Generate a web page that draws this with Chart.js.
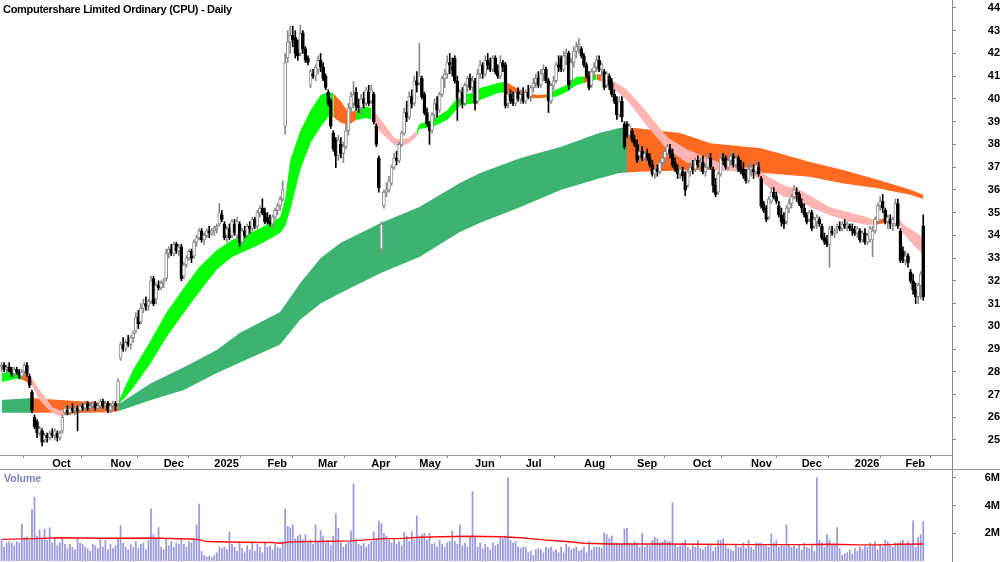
<!DOCTYPE html>
<html>
<head>
<meta charset="utf-8">
<script src="https://cdn.jsdelivr.net/npm/chart.js@4.4.1/dist/chart.umd.min.js"></script>
<style>
  html, body { margin:0; padding:0; background:#fff; }
  #wrap { position:relative; width:1000px; height:562px; overflow:hidden; background:#fff; }
  #priceCanvas { position:absolute; left:0; top:0; }
  #volBox { position:absolute; left:0; top:469px; width:1000px; height:93px; border-top:1px solid #9a9a9a; box-sizing:border-box; }
  #volCanvas { position:absolute; left:0; top:0; }
  #title { position:absolute; left:3px; top:3px; font:bold 11px "Liberation Sans", Arial, sans-serif; letter-spacing:-0.3px; color:#000; white-space:nowrap; }
  #volLabel { position:absolute; left:4px; top:472px; font:bold 10.5px "Liberation Sans", Arial, sans-serif; color:#7f7fc0; }
</style>
</head>
<body>
<div id="wrap">
  <canvas id="priceCanvas" width="1000" height="469"></canvas>
  <div id="volBox"><canvas id="volCanvas" width="1000" height="92"></canvas></div>
  <div id="title">Computershare Limited Ordinary (CPU) - Daily</div>
  <div id="volLabel">Volume</div>
</div>
<script>
// ---------- DATA ----------
const monthTickIdx = [20,43,64,84,105,125,146,165,187,207,230,251,273,296,316,337,357];
const monthTickLabels = ['Oct','Nov','Dec','2025','Feb','Mar','Apr','May','Jun','Jul','Aug','Sep','Oct','Nov','Dec','2026','Feb'];
const priceTicks = [25,26,27,28,29,30,31,32,33,34,35,36,37,38,39,40,41,42,43,44];
const volTicks = [2,4,6];

const opens = [
28.2,28.3,28.1,28.2,28.0,27.9,28.1,28.0,27.8,28.0,
28.3,27.8,27.1,26.0,25.8,25.3,25.4,25.0,25.2,25.1,
25.3,25.2,25.3,25.1,25.4,26.2,26.3,26.2,26.4,26.3,
26.4,26.3,26.5,26.4,26.6,26.4,26.5,26.6,26.4,26.5,
26.7,26.5,26.6,26.3,26.5,26.6,26.6,28.6,29.2,29.0,
29.3,29.2,29.5,29.8,30.4,30.2,30.8,31.0,30.9,31.1,
32.1,31.2,31.8,31.7,31.9,32.1,33.2,33.4,33.2,33.6,
33.3,33.5,32.2,32.7,33.0,33.3,33.1,33.7,33.9,34.2,
33.8,34.0,34.2,34.1,34.2,34.3,34.5,34.9,34.5,34.0,
34.3,34.0,34.5,34.0,34.5,33.7,34.2,34.0,34.4,34.3,
34.7,34.4,35.0,35.2,35.0,34.8,34.6,34.5,34.8,35.1,
35.3,35.6,38.8,41.8,42.5,42.8,42.7,42.2,42.0,42.9,
42.2,41.8,40.6,41.1,41.0,41.3,41.7,41.4,41.0,40.3,
39.9,38.5,38.2,37.5,38.0,37.6,37.9,38.6,39.6,39.8,
40.3,39.7,39.6,40.0,39.8,40.3,39.9,40.2,38.8,37.4,
33.4,35.3,35.9,36.0,36.3,37.0,37.4,37.3,38.0,38.5,
39.4,39.2,40.1,39.8,40.8,40.7,40.9,40.2,39.4,38.9,
38.6,39.3,39.8,39.5,40.2,40.9,41.1,41.6,41.4,41.8,
40.8,40.0,40.3,39.8,40.6,40.9,40.5,40.8,39.9,41.1,
41.5,41.1,41.7,41.6,41.3,41.8,41.2,41.0,41.6,41.5,
39.8,40.2,40.0,39.8,40.3,40.0,40.2,39.9,40.3,40.1,
40.5,40.7,40.9,40.6,41.1,41.3,40.8,39.9,40.6,40.8,
41.5,41.8,41.3,41.9,42.0,40.8,41.6,42.1,42.3,42.2,
41.9,41.5,41.0,40.6,41.2,41.4,41.7,41.3,41.2,40.6,
41.0,40.7,40.2,39.9,39.3,39.9,38.9,38.9,38.4,38.6,
38.2,38.0,37.5,37.7,37.4,37.6,37.4,37.1,36.7,36.9,
36.8,37.2,37.4,37.6,37.8,37.6,37.2,36.9,36.7,36.8,
36.7,36.2,36.8,37.0,36.9,37.3,37.1,37.2,36.8,37.0,
37.4,36.9,36.2,35.9,36.7,37.4,37.4,37.0,37.3,37.5,
37.1,37.4,37.0,36.9,36.7,36.4,36.9,36.9,36.8,37.0,
36.5,35.4,35.2,34.8,35.5,35.9,35.7,35.3,34.9,34.7,
34.6,35.2,35.4,35.7,35.9,35.8,35.4,35.2,34.9,34.7,
35.0,34.4,34.6,34.7,34.4,33.9,33.8,33.6,34.2,34.1,
34.3,34.4,34.3,34.5,34.4,34.4,34.3,34.2,34.1,34.2,
33.8,34.1,33.7,33.8,33.8,34.2,34.6,35.3,35.5,35.1,
34.6,34.7,34.5,34.5,35.4,34.2,33.3,32.9,33.1,32.4,
32.0,31.6,31.3,31.8,34.4];
const highs = [
28.4,28.4,28.3,28.4,28.2,28.2,28.2,28.1,28.1,28.4,
28.4,27.9,27.2,26.1,25.9,25.6,25.5,25.3,25.3,25.4,
25.5,25.5,25.4,25.4,26.1,26.5,26.5,26.5,26.6,26.5,
26.5,26.6,26.6,26.7,26.7,26.6,26.7,26.7,26.6,26.8,
26.8,26.7,26.7,26.6,26.7,26.7,27.7,29.3,29.5,29.4,
29.6,29.6,29.8,30.6,30.7,31.0,31.2,31.3,31.2,32.2,
32.2,31.9,32.0,32.0,32.1,33.4,33.5,33.6,33.7,33.7,
33.6,33.6,32.8,33.1,33.4,33.4,33.8,34.0,34.3,34.3,
34.1,34.3,34.4,34.3,34.4,34.5,35.4,35.1,34.6,34.4,
34.5,34.7,34.7,34.8,34.6,34.3,34.4,34.5,34.6,34.8,
34.8,35.1,35.3,35.6,35.2,35.0,34.9,34.9,35.2,35.4,
35.7,36.4,42.0,43.0,43.2,43.2,43.0,42.6,43.25,43.0,
42.3,41.9,41.3,41.3,41.5,41.9,42.0,41.6,41.1,40.4,
40.0,38.6,38.3,38.4,38.3,38.1,38.9,39.8,40.3,40.76,
40.5,40.0,40.2,40.3,40.5,40.6,40.6,40.3,38.9,37.5,
34.6,36.0,36.3,36.6,37.1,37.6,37.7,38.1,38.6,39.6,
39.9,40.3,40.4,41.0,41.2,42.45,41.0,40.3,39.6,39.0,
39.4,40.0,40.1,40.3,41.0,41.3,41.9,42.0,41.8,41.9,
41.0,40.4,40.5,40.7,41.0,41.1,41.0,40.9,41.3,41.7,
41.6,41.9,42.0,41.8,41.9,41.9,41.5,41.9,41.7,41.6,
40.3,40.4,40.3,40.4,40.5,40.4,40.5,40.4,40.6,40.6,
40.9,41.1,41.2,41.3,41.5,41.4,40.9,40.7,41.0,41.6,
41.9,41.9,42.1,42.2,42.1,41.8,42.3,42.5,42.65,42.3,
42.0,41.6,41.2,41.3,41.6,41.9,41.9,41.6,41.3,41.2,
41.1,40.9,40.4,40.1,40.1,40.1,39.0,39.0,38.9,38.7,
38.4,38.2,37.9,37.9,37.7,37.8,37.6,37.3,37.0,37.1,
37.3,37.6,37.8,38.0,38.0,37.8,37.4,37.1,37.0,37.0,
36.8,36.9,37.2,37.3,37.4,37.5,37.4,37.5,37.1,37.6,
37.6,37.0,36.5,36.8,37.6,37.6,37.5,37.5,37.7,37.6,
37.6,37.5,37.3,37.2,36.9,37.1,37.2,37.1,37.3,37.2,
36.6,35.5,35.3,35.7,36.1,36.1,35.9,35.5,35.2,35.0,
35.3,35.6,35.8,36.2,36.1,35.9,35.6,35.4,35.0,35.1,
35.1,34.8,34.9,34.8,34.5,34.1,34.0,34.4,34.4,34.3,
34.5,34.6,34.6,34.7,34.6,34.5,34.5,34.4,34.4,34.3,
34.2,34.3,34.1,34.4,34.4,34.8,35.4,35.7,35.8,35.2,
34.9,34.9,34.8,35.6,35.6,34.3,33.5,33.3,33.2,32.5,
32.3,31.9,31.9,32.4,34.9];
const lows = [
28.0,28.0,27.9,28.0,27.8,27.8,27.9,27.7,27.7,27.9,
27.8,27.3,26.2,25.5,25.1,25.2,24.74,24.9,24.9,25.0,
25.1,25.0,24.95,25.0,25.3,26.1,26.1,26.1,26.2,26.1,
25.4,26.2,26.3,26.3,26.3,26.2,26.4,26.3,26.3,26.4,
26.4,26.3,26.2,26.2,26.3,26.3,26.5,28.5,28.9,28.9,
29.1,29.0,29.3,29.7,29.9,30.1,30.6,30.7,30.7,31.0,
30.9,31.0,31.6,31.6,31.7,32.0,33.0,33.1,33.1,33.2,
33.1,32.0,32.1,32.6,32.9,32.8,33.0,33.5,33.8,33.7,
33.6,33.9,33.9,34.0,34.0,34.1,34.4,34.6,33.8,33.7,
33.8,33.9,34.0,33.9,33.5,33.6,33.9,33.9,34.1,34.2,
34.3,34.3,34.8,34.9,34.5,34.5,34.4,34.3,34.7,34.9,
35.1,35.5,38.45,41.6,42.0,42.3,41.8,41.7,41.9,42.0,
41.6,41.5,40.5,40.9,40.8,41.1,41.2,40.8,40.4,39.7,
38.7,37.7,36.98,37.3,37.4,37.2,37.8,38.4,39.4,39.6,
39.5,39.4,39.3,39.6,39.7,39.7,39.8,38.9,37.9,35.9,
33.16,35.2,35.7,35.9,36.2,36.9,37.1,37.2,37.9,38.4,
39.0,39.1,39.6,39.7,40.3,40.6,40.0,39.3,38.8,38.0,
38.5,39.1,39.2,39.4,40.1,40.5,40.9,41.1,41.0,40.7,
39.05,39.7,39.6,39.7,40.3,40.4,40.3,39.5,39.8,40.9,
40.9,41.0,41.3,41.2,41.2,41.1,40.9,40.9,41.2,39.6,
39.6,39.8,39.7,39.7,39.9,39.8,39.8,39.8,40.0,39.9,
40.3,40.5,40.5,40.5,40.8,40.7,39.4,39.8,40.4,40.7,
41.2,41.2,41.2,41.5,40.4,40.7,41.4,41.8,42.0,41.8,
41.4,40.9,40.4,40.5,41.0,41.2,41.2,41.0,40.4,40.5,
40.4,40.1,39.8,39.1,39.2,39.0,37.8,38.3,38.3,38.1,
37.9,37.2,37.2,37.3,37.2,37.3,37.0,36.6,36.5,36.6,
36.7,37.0,37.2,37.5,37.4,37.0,36.8,36.5,36.5,36.4,
35.75,36.1,36.6,36.7,36.8,37.0,36.8,36.7,36.6,36.9,
36.9,35.9,35.7,35.8,36.6,37.1,36.9,36.9,37.1,37.0,
37.0,36.8,36.7,36.5,36.3,36.3,36.6,36.5,36.7,36.6,
35.2,35.0,34.6,34.7,35.4,35.6,35.4,34.8,34.4,34.3,
34.5,35.0,35.2,35.6,35.5,35.3,35.0,34.8,34.5,34.6,
34.2,34.3,34.3,34.4,33.8,33.6,33.5,32.6,34.0,33.9,
34.1,34.2,34.2,34.3,34.2,34.2,34.0,34.0,33.9,33.7,
33.7,33.6,33.6,33.7,33.06,34.1,34.5,35.1,35.0,34.5,
34.3,34.3,34.2,34.4,34.3,32.8,32.8,32.7,32.6,31.9,
31.4,31.0,31.0,31.2,31.15];
const closes = [
28.3,28.1,28.2,28.0,27.9,28.1,28.0,27.8,28.0,28.3,
27.9,27.4,26.3,25.6,25.3,25.5,24.9,25.2,25.1,25.3,
25.2,25.4,25.1,25.3,26.0,26.4,26.2,26.4,26.3,26.4,
26.3,26.5,26.4,26.6,26.4,26.5,26.6,26.4,26.5,26.7,
26.5,26.6,26.3,26.5,26.6,26.5,27.6,29.2,29.0,29.3,
29.2,29.5,29.7,30.4,30.1,30.8,31.0,30.9,31.1,32.0,
31.0,31.8,31.7,31.9,32.0,33.2,33.4,33.2,33.6,33.3,
33.5,32.1,32.7,33.0,33.3,33.0,33.7,33.9,34.2,33.8,
34.0,34.2,34.1,34.2,34.3,34.4,35.0,34.7,33.9,34.3,
33.9,34.6,34.1,34.6,33.7,34.2,34.0,34.4,34.3,34.7,
34.4,35.0,35.2,35.0,34.6,34.6,34.5,34.8,35.1,35.3,
35.6,36.0,41.6,42.5,42.8,42.6,42.0,41.9,42.9,42.2,
41.7,41.6,41.2,41.0,41.4,41.7,41.4,40.9,40.5,39.8,
38.8,37.8,37.5,38.2,37.6,37.9,38.6,39.6,40.1,40.2,
39.7,39.6,40.0,39.8,40.4,39.8,40.4,39.0,38.0,36.1,
34.5,35.9,36.0,36.4,37.0,37.4,37.3,38.0,38.5,39.4,
39.2,40.1,39.8,40.8,40.6,41.0,40.1,39.4,38.9,38.6,
39.3,39.8,39.5,40.2,40.9,41.1,41.6,41.5,41.3,40.8,
40.0,40.3,39.8,40.6,40.9,40.5,40.8,39.8,41.1,41.5,
41.1,41.7,41.5,41.3,41.8,41.2,41.0,41.6,41.4,39.7,
40.2,39.9,39.8,40.3,40.0,40.2,39.9,40.3,40.1,40.5,
40.7,40.9,40.6,41.1,41.3,40.8,39.9,40.6,40.8,41.5,
41.4,41.3,41.9,42.0,40.6,41.6,42.1,42.3,42.4,41.9,
41.5,41.0,40.5,41.2,41.4,41.7,41.3,41.5,40.5,41.1,
40.6,40.2,39.9,39.3,39.9,39.2,37.9,38.4,38.8,38.2,
38.0,37.3,37.7,37.4,37.6,37.4,37.1,36.7,36.9,36.8,
37.2,37.4,37.7,37.9,37.6,37.1,36.9,36.7,36.9,36.6,
36.0,36.8,37.0,36.9,37.3,37.1,37.2,36.8,37.0,37.4,
37.0,36.2,35.8,36.7,37.4,37.3,37.0,37.3,37.5,37.1,
37.4,36.9,36.8,36.6,36.4,36.9,37.0,36.8,37.1,36.7,
35.3,35.1,34.7,35.6,35.9,35.7,35.5,34.9,34.6,34.5,
35.2,35.4,35.7,36.0,35.8,35.4,35.2,34.9,34.6,35.0,
34.3,34.7,34.8,34.5,33.9,33.7,33.6,34.3,34.1,34.2,
34.4,34.3,34.5,34.4,34.5,34.3,34.2,34.1,34.3,33.8,
34.1,33.7,34.0,34.3,34.2,34.7,35.3,35.5,35.2,34.6,
34.8,34.5,34.7,35.4,34.4,32.9,32.9,33.1,32.8,32.0,
31.6,31.3,31.8,32.3,31.3];

// volume in millions of shares
const volumes = [
1.5,1.0,1.3,1.4,1.3,1.1,1.4,1.3,2.65,1.7,
1.75,1.5,3.7,4.6,1.8,2.25,1.6,2.3,1.5,2.4,
1.3,1.7,1.1,1.3,1.6,1.2,0.9,1.2,1.0,0.8,
1.7,1.3,1.2,1.0,0.9,0.7,1.2,1.1,0.9,1.6,
1.0,1.5,0.8,1.2,0.9,1.1,1.6,2.55,1.3,1.0,
0.8,1.2,1.0,1.4,0.9,1.2,1.3,0.8,1.5,3.75,
1.9,1.6,2.4,1.0,0.8,1.6,1.1,1.4,1.0,1.3,
1.2,1.6,1.2,1.0,1.4,1.3,1.6,2.6,4.1,0.7,
0.4,0.3,0.35,0.25,0.4,0.6,1.0,0.9,1.0,0.8,
2.1,1.2,1.0,0.7,1.4,0.9,0.6,1.1,0.8,1.3,
0.7,1.2,1.0,0.6,1.3,1.0,1.1,0.8,1.2,1.0,
0.9,1.4,3.75,2.5,2.4,2.6,1.6,1.8,1.9,1.5,
1.9,1.3,1.5,1.2,2.6,1.4,2.2,1.8,1.3,1.5,
1.1,1.8,3.4,2.35,1.3,1.0,1.2,1.4,2.15,5.55,
1.6,1.2,1.1,1.3,1.0,1.2,1.4,2.1,1.6,2.9,
2.7,2.0,1.8,1.5,1.3,1.6,1.2,1.4,1.1,2.05,
1.8,1.4,2.1,1.5,3.25,1.6,1.9,2.0,1.5,2.0,
1.2,1.3,1.0,1.5,1.2,1.0,1.3,1.4,2.15,1.4,
1.2,2.6,1.1,1.3,1.0,1.7,5.0,1.7,1.0,1.3,
0.9,1.2,1.0,0.8,1.3,1.1,1.2,1.8,1.6,1.8,
6.0,1.5,1.3,1.4,1.0,0.9,1.0,1.0,0.6,0.7,
0.4,0.8,0.9,0.8,0.6,1.0,0.9,1.0,0.7,0.8,
0.6,1.0,0.6,1.2,1.0,0.8,0.9,1.0,0.7,0.8,
1.0,0.6,1.4,0.8,1.0,1.0,1.0,0.9,2.0,1.9,
1.6,1.8,1.3,1.3,1.2,1.2,2.3,2.35,1.3,1.2,
1.4,1.3,1.0,2.0,1.0,1.2,1.1,1.5,1.7,1.6,
1.3,1.4,1.5,1.4,1.4,4.2,1.2,1.0,1.1,1.3,
1.5,1.0,0.8,1.1,1.0,1.5,0.9,0.8,1.0,1.2,
1.1,0.7,1.0,1.5,1.5,1.6,1.2,0.9,0.8,0.7,
1.2,1.0,1.0,1.3,0.9,1.5,1.0,0.8,1.3,1.3,
1.3,1.2,1.1,1.0,1.95,1.3,1.5,1.0,1.2,1.1,
2.6,1.2,1.0,1.1,0.9,1.2,0.8,1.3,1.0,0.9,
1.2,0.7,6.0,1.5,1.3,1.0,1.9,1.5,1.1,1.2,
2.4,0.9,0.4,0.5,0.6,0.8,0.5,0.9,0.7,1.0,
0.8,1.1,1.0,1.3,1.1,1.4,0.8,1.2,1.0,1.5,
1.4,1.2,1.0,1.3,1.3,1.4,1.5,1.2,1.4,1.2,
2.9,1.0,1.7,1.9,2.85];

// volume moving average (read at sample bars)
const volMaIdx = [0,13,23,39,59,74,78,81,94,107,110,114,130,138,144,151,157,165,173,185,197,205,214,223,230,240,263,276,296,315,328,339,347,355,364];
const volMa = [1.56,1.61,1.68,1.64,1.66,1.59,1.54,1.40,1.35,1.33,1.28,1.38,1.42,1.45,1.52,1.61,1.61,1.71,1.75,1.78,1.75,1.68,1.52,1.40,1.28,1.23,1.23,1.21,1.18,1.18,1.21,1.16,1.16,1.21,1.23];

// short-term band (upper / lower edge) read at sample bars; trend: u=up, m=mixed, d=down
const shortIdx = [0,6,8,10,12,15,18,20,23,25,31,39,43,46,49,52,59,65,72,78,85,91,94,102,110,112,114,118,122,126,129,131,134,137,140,144,146,149,155,157,161,164,165,170,176,181,186,189,196,199,203,207,212,215,219,223,227,230,232,235,237,241,247,255,263,271,279,284,293,298,303,309,315,320,327,335,342,344,350,354,356,360,364];
const shortHi = [27.95,28.0,27.95,27.85,27.7,27.2,26.76,26.45,26.3,26.35,26.45,26.5,26.55,26.65,27.4,28.1,29.4,30.6,31.7,32.6,33.36,33.8,33.93,34.3,34.8,35.6,37.3,38.6,39.5,40.17,40.3,40.25,39.9,39.4,39.5,39.65,39.6,39.2,38.3,38.2,38.3,38.6,38.9,39.07,39.5,40.17,40.26,40.48,40.7,40.75,40.5,40.26,40.17,40.2,40.4,40.6,40.96,41.0,40.97,41.1,41.05,40.83,40.4,39.4,38.3,37.76,37.4,37.18,37.0,36.96,36.57,36.2,36.0,35.7,35.25,35.0,34.8,34.7,34.72,34.8,34.5,34.2,33.9];
const shortLo = [27.55,27.7,27.65,27.55,27.4,26.76,26.4,26.2,26.05,26.1,26.2,26.25,26.3,26.55,26.9,27.3,28.4,29.5,30.6,31.5,32.5,33.05,33.2,33.6,34.1,34.4,35.1,36.9,38.06,38.77,39.2,39.2,38.95,38.85,39.07,39.16,39.1,38.6,37.98,37.9,38.06,38.35,38.68,38.77,39.07,39.7,39.8,39.95,40.26,40.3,40.17,40.04,40.03,40.05,40.1,40.3,40.6,40.7,40.75,40.85,40.75,40.5,39.95,38.8,37.76,37.18,37.0,36.85,36.8,36.57,36.1,35.7,35.56,35.2,34.9,34.6,34.46,34.45,34.55,34.65,34.1,33.6,33.14];
const shortTrend = ('uummdddddm'+'mmmuuuuuuu'+'uuuuuuuuuu'+'ummmuudddd'+'duuuuuuuum'+'mmmuuuumum'+'dddddddddd'+'dddddddmmd'+'ddd').split('');

// long-term band
const longIdx = [0,6,12,20,31,43,46,59,72,85,94,110,118,126,134,150,165,181,189,205,221,236,244,247,252,268,280,300,319,332,346,359,364];
const longHi = [26.76,26.8,26.85,26.78,26.7,26.63,26.56,27.5,28.2,28.96,29.7,30.63,31.9,33.0,33.67,34.55,35.25,36.3,36.74,37.4,37.9,38.5,38.72,38.74,38.7,38.5,38.05,37.83,37.24,36.88,36.44,36.0,35.78];
const longLo = [26.2,26.2,26.2,26.2,26.2,26.22,26.26,26.76,27.2,27.95,28.4,29.2,30.3,31.0,31.47,32.35,33.05,34.15,34.55,35.25,36.0,36.5,36.74,36.76,36.8,36.85,36.9,36.75,36.58,36.29,36.07,35.78,35.6];
const longTrend = ('uummmmuuuu'+'uuuuuuuuuu'+'uuummmmmmm'+'mmm').split('');

// ---------- STYLE / BUILD ----------
const FONT = '"Liberation Sans", Arial, sans-serif';
Chart.defaults.font.family = FONT;
const ORANGE = '#ff6a22', PINK = '#ffb4b4', LIME = '#00ff00', SEA = '#3cb371';
const X_MIN = -0.63, X_MAX = 375.37;

function band(idx, hi, lo, trend, upColor, order) {
  const segColor = c => { const t = trend[c.p0DataIndex]; return t === 'u' ? upColor : (t === 'm' ? ORANGE : PINK); };
  return [
    { type:'line', data: idx.map((x,k)=>({x, y:hi[k]})), borderWidth:0, borderColor:'rgba(0,0,0,0)', pointRadius:0,
      fill:'+1', backgroundColor: upColor, segment:{ backgroundColor: segColor }, order, tension:0 },
    { type:'line', data: idx.map((x,k)=>({x, y:lo[k]})), borderWidth:0, borderColor:'rgba(0,0,0,0)', pointRadius:0,
      fill:false, order, tension:0 }
  ];
}

const isUp = k => closes[k] >= opens[k];
const wickData = opens.map((o,k)=>({x:k, y:[lows[k], highs[k]]}));
const bodyData = opens.map((o,k)=>({x:k, y:[Math.min(o, closes[k]), Math.max(o, closes[k])]}));

const axisExtend = {
  id:'axisExtend',
  afterDraw(chart) {
    const {ctx, chartArea} = chart;
    const x = Math.round(chartArea.right) + 0.5;
    ctx.save(); ctx.strokeStyle = '#888'; ctx.lineWidth = 1;
    ctx.beginPath(); ctx.moveTo(x, chartArea.bottom); ctx.lineTo(x, chart.height); ctx.stroke(); ctx.restore();
  }
};

const tickFont = { family: FONT, size: 11, weight: 'bold' };
const fitRight = s => { s.width = 48; s.paddingTop = 0; s.paddingBottom = 0; };

new Chart(document.getElementById('priceCanvas'), {
  type: 'line',
  data: {
    datasets: [
      ...band(longIdx, longHi, longLo, longTrend, SEA, 10),
      ...band(shortIdx, shortHi, shortLo, shortTrend, LIME, 8),
      { type:'bar', data: wickData, backgroundColor: opens.map((o,k)=> isUp(k) ? '#8a8a8a' : '#000'),
        barThickness: 1, grouped:false, order:2 },
      { type:'bar', data: bodyData, backgroundColor: opens.map((o,k)=> isUp(k) ? '#ffffff' : '#000'),
        borderColor: opens.map((o,k)=> isUp(k) ? '#8a8a8a' : '#000'), borderWidth:1, borderSkipped:false,
        barThickness: 3, minBarLength: 1, grouped:false, order:1 }
    ]
  },
  options: {
    responsive:false, animation:false, devicePixelRatio:1, events:[],
    layout:{ padding:0 },
    plugins:{ legend:{display:false}, tooltip:{enabled:false} },
    scales:{
      x:{ type:'linear', min:X_MIN, max:X_MAX, offset:false, position:'bottom',
          grid:{ display:true, drawOnChartArea:false, drawTicks:true, tickLength:3, color:'#888' },
          border:{ display:true, color:'#9a9a9a' },
          afterBuildTicks: s => { s.ticks = monthTickIdx.map(v=>({value:v})); },
          ticks:{ autoSkip:false, maxRotation:0, align:'start', padding:-1, color:'#000', font:tickFont,
                  callback:(v,i)=> monthTickLabels[i] },
          afterFit: s => { s.height = 14; s.paddingLeft = 0; s.paddingRight = 0; } },
      y:{ type:'linear', position:'right', min:24.34, max:44.35,
          grid:{ display:true, drawOnChartArea:false, drawTicks:true, tickLength:4, color:'#888' },
          border:{ display:true, color:'#888' },
          afterBuildTicks: s => { s.ticks = priceTicks.map(v=>({value:v})); },
          ticks:{ autoSkip:false, crossAlign:'far', padding:29, color:'#000', font:tickFont },
          afterFit: fitRight }
    }
  },
  plugins:[axisExtend]
});

new Chart(document.getElementById('volCanvas'), {
  type: 'line',
  data: {
    datasets: [
      { type:'line', data: volMaIdx.map((x,k)=>({x, y:volMa[k]})), borderColor:'#ff1010', borderWidth:1.4,
        pointRadius:0, fill:false, tension:0, order:1 },
      { type:'bar', data: volumes.map((v,k)=>({x:k, y:v})), backgroundColor:'#9a9ade',
        barThickness:1.1, grouped:false, order:2 }
    ]
  },
  options: {
    responsive:false, animation:false, devicePixelRatio:1, events:[],
    layout:{ padding:{ bottom:1 } },
    plugins:{ legend:{display:false}, tooltip:{enabled:false} },
    scales:{
      x:{ type:'linear', min:X_MIN, max:X_MAX, offset:false, display:false },
      y:{ type:'linear', position:'right', min:0, max:6.556,
          grid:{ display:true, drawOnChartArea:false, drawTicks:true, tickLength:4, color:'#888' },
          border:{ display:true, color:'#888' },
          afterBuildTicks: s => { s.ticks = volTicks.map(v=>({value:v})); },
          ticks:{ autoSkip:false, crossAlign:'far', padding:26, color:'#000', font:tickFont,
                  callback: v => v + 'M' },
          afterFit: fitRight }
    }
  },
  plugins:[axisExtend]
});
</script>
</body>
</html>
